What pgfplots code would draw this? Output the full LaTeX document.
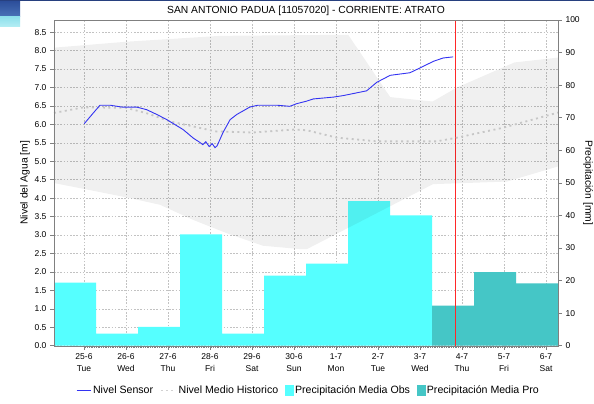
\documentclass[border=0pt]{standalone}
\usepackage{fontspec}
\setmainfont{Liberation Sans}
\usepackage{pgfplots}
\pgfplotsset{compat=1.18}

\definecolor{obsc}{HTML}{55FFFF}
\definecolor{proc}{HTML}{45C6C6}
\definecolor{sensorc}{HTML}{3333F2}
\definecolor{histc}{HTML}{C6C6C6}
\definecolor{gridc}{HTML}{C2C2C2}
\definecolor{axc}{HTML}{808080}
\definecolor{nowc}{RGB}{255,40,40}
\definecolor{wa}{HTML}{2A4C98}
\definecolor{wb}{HTML}{4A72B8}
\definecolor{wc}{HTML}{8FE0EC}
\definecolor{wd}{HTML}{B5EEF4}
\definecolor{we}{HTML}{27407F}

\pgfplotsset{
  every axis title shift=0pt,
  base/.style={
    at={(54pt,58.3pt)}, anchor=south west,
    width=504pt, height=325.7pt, scale only axis,
    xmin=-0.714, xmax=11.286,
    xtick={0,1,2,3,4,5,6,7,8,9,10,11},
    /pgf/number format/assume math mode=true,
    tick label style={font=\fontsize{8.5}{12}\selectfont},
    label style={font=\fontsize{10.3}{12}\selectfont},
    axis line style={axc},
    tick style={axc, line width=0.6pt},
    tick align=outside,
    major tick length=4pt,
    minor tick length=2pt,
  },
}

\begin{document}
\begin{tikzpicture}
\path[use as bounding box] (0,0) rectangle (594pt,404pt);
\fill[white] (0,0) rectangle (594pt,404pt);
% window decoration at top-left
\fill[top color=wa, bottom color=wb] (0pt,404pt) rectangle (20pt,387pt);
\fill[top color=wc, bottom color=wd] (0pt,387pt) rectangle (20pt,377pt);
\fill[we] (0pt,404pt) rectangle (594pt,403pt);

% ---------- axis 1: grid only ----------
\begin{axis}[base,
  ymin=0, ymax=8.83,
  ytick={0,0.5,1,1.5,2,2.5,3,3.5,4,4.5,5,5.5,6,6.5,7,7.5,8,8.5},
  xticklabels={}, yticklabels={},
  axis line style={draw=none}, major tick length=0pt,
  grid=major,
  major grid style={gridc, line width=0.6pt, dash pattern=on 1.6pt off 1.6pt},
]
\addplot[draw=none, forget plot] coordinates {(0,0) (1,1)};
\end{axis}

% ---------- axis 2: precipitation bars, right axis ----------
\begin{axis}[base,
  ymin=0, ymax=100,
  ytick={0,10,20,30,40,50,60,70,80,90,100},
  axis y line*=right, axis x line=none,
  ylabel={Precipitación [mm]},
  ylabel style={at={(axis description cs:1.0595,0.5)}, anchor=center, rotate=180},
]
\addplot[const plot, fill=obsc, draw=none] coordinates {
  (-0.714,19.4) (0.29,3.7) (1.29,5.75) (2.29,34.2) (3.29,3.7)
  (4.29,21.5) (5.29,25.2) (6.29,44.4) (7.29,40.0) (8.29,40.0)
} \closedcycle;
\addplot[const plot, fill=proc, draw=none] coordinates {
  (8.29,12.3) (9.29,22.6) (10.29,19.1) (11.286,19.1)
} \closedcycle;
% current time marker
\addplot[nowc, mark=none, line width=1.2pt] coordinates {(8.84,0) (8.84,100)};
\end{axis}

% ---------- axis 3: water level, frame, left axis, labels ----------
\begin{axis}[base,
  ymin=0, ymax=8.83,
  ytick={0,0.5,1,1.5,2,2.5,3,3.5,4,4.5,5,5.5,6,6.5,7,7.5,8,8.5},
  yticklabel style={/pgf/number format/.cd, fixed, fixed zerofill, precision=1},
  xticklabels={{25-6\\Tue},{26-6\\Wed},{27-6\\Thu},{28-6\\Fri},{29-6\\Sat},{30-6\\Sun},{1-7\\Mon},{2-7\\Tue},{3-7\\Wed},{4-7\\Thu},{5-7\\Fri},{6-7\\Sat}},
  xticklabel style={align=center},
  xtick pos=bottom, ytick pos=left,
  minor x tick num=23,
  axis on top,
  ylabel={Nivel del Agua [m]},
  ylabel style={at={(axis description cs:-0.0575,0.5)}, anchor=center},
  title={SAN ANTONIO PADUA [11057020] - CORRIENTE: ATRATO},
  title style={font=\fontsize{10.3}{12}\selectfont, at={(axis description cs:0.5,1)}, anchor=base, yshift=6.5pt},
  legend columns=4,
  legend style={draw=none, fill=none, at={(0.505,-0.137)}, anchor=center,
    font=\fontsize{10.6}{12}\selectfont,
    /tikz/every even column/.append style={column sep=5pt},
    inner sep=0pt},
]
% historical range band
\addplot[draw=none, fill=black, fill opacity=0.06, forget plot] coordinates {
  (-0.714,8.08) (1.0,8.24) (3.24,8.40) (6.29,8.43) (7.29,6.74) (8.3,6.62)
  (8.88,7.00) (10.25,7.68) (11.286,7.81)
  (11.286,4.86) (10.07,4.45) (8.31,4.38) (5.31,2.62) (5.14,2.62) (4.26,2.71)
  (3.40,3.05) (2.60,3.41) (1.81,3.82) (1.02,4.02) (-0.714,4.41)
};
% historical mean level
\addplot[color=histc, line width=1.8pt, dash pattern=on 2pt off 3.5pt, forget plot] coordinates {
  (-0.714,6.31) (-0.02,6.46) (1.0,6.45) (1.5,6.30) (2.05,6.08) (3.14,5.81)
  (4.02,5.78) (5.0,5.86) (5.31,5.84) (6.02,5.64) (6.98,5.54) (8.4,5.54)
  (8.88,5.64) (9.98,5.91) (11.286,6.32)
};
% sensor level
\addplot[color=sensorc, line width=0.9pt, forget plot] coordinates {
  (0.007,6.02) (0.20,6.28) (0.38,6.52) (0.62,6.52) (0.90,6.47) (1.25,6.47)
  (1.49,6.40) (1.75,6.26) (1.97,6.13) (2.36,5.86) (2.60,5.63) (2.76,5.51)
  (2.83,5.45) (2.90,5.53) (2.98,5.40) (3.05,5.48) (3.12,5.37) (3.17,5.42)
  (3.31,5.78) (3.48,6.13) (3.64,6.27) (3.95,6.47) (4.14,6.52) (4.59,6.52)
  (4.90,6.49) (5.06,6.56) (5.30,6.63) (5.46,6.69) (5.94,6.74) (6.17,6.78)
  (6.73,6.91) (6.97,7.14) (7.29,7.33) (7.76,7.40) (8.0,7.53) (8.32,7.71)
  (8.55,7.80) (8.79,7.83)
};

\addlegendimage{legend image code/.code={\draw[sensorc, line width=0.9pt] (0pt,0pt) -- (14pt,0pt);}}
\addlegendentry{Nivel Sensor}
\addlegendimage{legend image code/.code={\draw[histc!80, line width=1.5pt, dash pattern=on 2pt off 3pt] (0pt,0pt) -- (15pt,0pt);}}
\addlegendentry{Nivel Medio Historico}
\addlegendimage{legend image code/.code={\fill[obsc] (0pt,-5pt) rectangle (7.5pt,5pt);}}
\addlegendentry{Precipitación Media Obs}
\addlegendimage{legend image code/.code={\fill[proc] (0pt,-5pt) rectangle (7.5pt,5pt);}}
\addlegendentry{Precipitación Media Pro}
\end{axis}
\end{tikzpicture}
\end{document}
